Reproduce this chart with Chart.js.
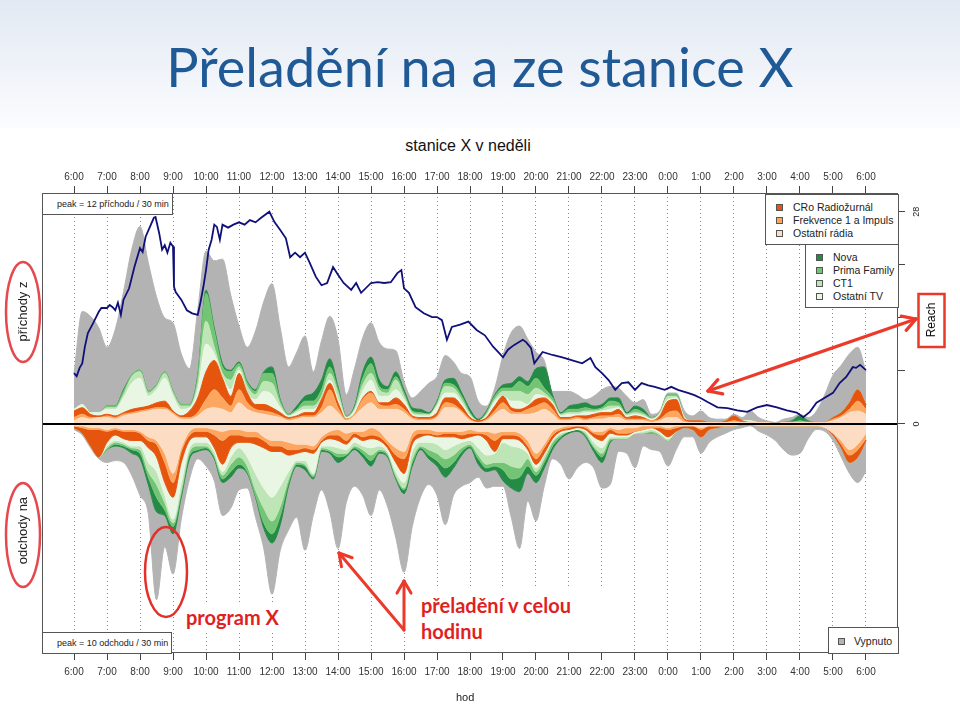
<!DOCTYPE html>
<html><head><meta charset="utf-8">
<script src="https://cdn.jsdelivr.net/npm/chart.js@4.4.1/dist/chart.umd.min.js"></script>
<style>
html,body{margin:0;padding:0;background:#fff;}
body{width:960px;height:707px;position:relative;overflow:hidden;font-family:"Liberation Sans",Arial,sans-serif;color:#222;}
#band{position:absolute;left:0;top:0;width:960px;height:128px;background:linear-gradient(#e2e9f3,#fbfcfe);}
#title{position:absolute;left:0;width:960px;top:35px;text-align:center;font-family:Lato,"Open Sans",sans-serif;font-size:54px;line-height:64px;color:#1f5a96;white-space:nowrap;}
#subtitle{position:absolute;left:400px;width:136px;top:136px;text-align:center;font-size:16px;line-height:20px;color:#111;white-space:nowrap;}
canvas{position:absolute;left:0;top:0;}
.box{position:absolute;background:#fff;border:1px solid #555;box-sizing:border-box;font-size:10.5px;line-height:13px;color:#222;white-space:nowrap;}
.row{position:absolute;}
.sw{position:absolute;width:7px;height:7px;border:1px solid #555;box-sizing:border-box;}
.rot{position:absolute;text-align:center;transform:rotate(-90deg);white-space:nowrap;}
.ann{position:absolute;background:#fff;color:#e01f1f;font-family:Lato,"Open Sans",sans-serif;font-weight:bold;font-size:20px;line-height:26px;white-space:nowrap;}
</style></head>
<body>
<div id="band"></div>
<div id="title">Přeladění na a ze stanice X</div>
<div id="subtitle">stanice X v neděli</div>
<canvas id="c" width="960" height="707"></canvas>

<div class="box" style="left:42px;top:193px;width:131px;height:22px;font-size:9px;"><span style="position:absolute;left:14px;top:4px;">peak = 12 příchodu / 30 min</span></div>
<div class="box" style="left:42px;top:632px;width:130px;height:22px;font-size:9px;"><span style="position:absolute;left:14px;top:4px;">peak = 10 odchodu / 30 min</span></div>

<div class="box" id="leg1" style="left:765px;top:194px;width:134px;height:51px;"></div>
<div class="box" id="leg2" style="left:805px;top:244px;width:94px;height:64px;"></div>
<div class="box" id="leg3" style="left:828px;top:627px;width:71px;height:27px;"></div>

<div class="rot" style="left:-38px;top:303px;width:120px;height:17px;line-height:17px;font-size:13px;">příchody z</div>
<div class="rot" style="left:-38px;top:522px;width:120px;height:17px;line-height:17px;font-size:13px;">odchody na</div>
<div class="rot" style="left:901px;top:312px;width:60px;height:16px;line-height:16px;font-size:12px;color:#111;">Reach</div>
<div style="position:absolute;left:456px;top:691px;font-size:11px;color:#222;">hod</div>

<div class="ann" style="left:183px;top:604px;padding:0 3px;">program X</div>
<div class="ann" style="left:412px;top:586px;width:203px;height:66px;padding:6px 0 0 9px;box-sizing:border-box;">přeladění v celou<br>hodinu</div>

<svg id="svg" width="960" height="707" style="position:absolute;left:0;top:0;" xmlns="http://www.w3.org/2000/svg">
 <ellipse cx="23" cy="312" rx="17" ry="50" fill="none" stroke="#e5484d" stroke-width="2.5"/>
 <ellipse cx="23" cy="535" rx="17" ry="52" fill="none" stroke="#e5484d" stroke-width="2.5"/>
 <ellipse cx="166" cy="572" rx="21" ry="45" fill="none" stroke="#e3302a" stroke-width="2.5"/>
 <rect x="918.5" y="294" width="26" height="53" fill="none" stroke="#e8392b" stroke-width="2.5"/>
</svg>

<script>
// ---------- data ----------
const hourTicks = [6,7,8,9,10,11,12,13,14,15,16,17,18,19,20,21,22,23,24,25,26,27,28,29,30];
const hourLabels = ['6:00','7:00','8:00','9:00','10:00','11:00','12:00','13:00','14:00','15:00','16:00','17:00','18:00','19:00','20:00','21:00','22:00','23:00','0:00','1:00','2:00','3:00','4:00','5:00','6:00'];
const reachTicks = [0,7,14,21,28];
const reachTickLabels = ['0','','','','28'];

// 15-minute grid, 6:00 -> 6:00 next day
const times = [];
for (let i = 0; i <= 96; i++) times.push(6 + i * 0.25);

// příchody z (arrivals from), per 30 min
const upRadia = [0.2,0.4,0.3,0.4,0.4,0.3,0.5,0.6,0.7,0.8,0.9,0.9,0.6,0.3,0.3,0.5,0.9,1.0,0.9,0.7,1.3,0.9,0.7,0.6,0.5,0.4,0.2,0.3,0.4,0.4,0.7,1.1,0.7,0.2,0.5,1.0,1.3,0.9,0.9,0.9,0.7,0.3,0.2,0.2,0.4,1.0,1.0,0.7,0.2,0.1,0.2,0.6,0.9,0.6,0.6,0.6,0.7,0.9,0.6,0.2,0.2,0.3,0.2,0.3,0.3,0.4,0.4,0.2,0.2,0.2,0.1,0.2,0.4,0.4,0.1,0.1,0.1,0.1,0.1,0.1,0.1,0.1,0.1,0.1,0.1,0,0.1,0.1,0.1,0.1,0.1,0.1,0.2,0.4,0.7,0.8,0.6];
const upFrekvence = [0.2,0.2,0.1,0,0.1,0.1,0.1,0.1,0.1,0.1,0.1,0.1,0.1,0.1,0.1,0.2,0.6,1.1,0.7,0.4,0.8,0.4,0.2,0.2,0.2,0.1,0.1,0.1,0.1,0.1,0.3,1.0,0.3,0.1,0.1,0.5,0.6,0.3,0.2,0.3,0.2,0.1,0.1,0.1,0.1,0.3,0.2,0.1,0.1,0,0.1,0.2,0.4,0.2,0.1,0.3,0.4,0.4,0.3,0.1,0.1,0.1,0.1,0.1,0.2,0.1,0.2,0.1,0.1,0.1,0.1,0.1,0.3,0.4,0.1,0,0,0,0,0,0.1,0,0,0,0,0,0,0,0,0,0,0,0.1,0.1,0.2,0.6,0.3];
const upCRo = [0.4,0.4,0.2,0.1,0.1,0.1,0.1,0.2,0.2,0.2,0.3,0.4,0.1,0.1,0.4,0.9,1.7,1.8,1.2,0.6,1.0,0.6,0.3,0.4,0.3,0.2,0.1,0.1,0.2,0.2,0.5,0.4,0.3,0,0,0.1,0.1,0.1,0.2,0.4,0.3,0.1,0.1,0.1,0.2,0.3,0.4,0.3,0.1,0.1,0.1,0.3,0.4,0.2,0.2,0.2,0.4,0.3,0.3,0.1,0.1,0.1,0.2,0.2,0.2,0.2,0.3,0.1,0.2,0.1,0,0.2,0.7,0.7,0.1,0.1,0.1,0,0,0.1,0.3,0.1,0,0,0,0,0,0,0,0,0,0,0.1,0.2,0.4,0.7,0.3];
const upOstatniTV = [0.1,0.2,0.1,0.2,0.3,0.4,0.9,1.6,1.8,0.6,0.8,1.4,0.9,0.4,0.2,0.5,1.7,0.4,0.1,0.4,0.2,0,0.3,0.8,0.8,0.3,0.1,0.2,0.2,0.2,0,0.2,0.2,0.1,0.2,0.4,0.7,0.4,0.4,0.5,0.3,0.1,0.1,0.1,0.4,0.3,0.3,0.2,0.1,0,0.1,0.3,0,0.4,0.5,0.1,0.3,0.1,0.1,0.1,0.2,0.1,0.2,0.1,0.1,0.2,0.1,0.1,0.1,0.1,0.1,0.1,0.1,0.1,0.1,0,0,0,0,0,0,0,0.1,0,0,0,0,0,0,0,0,0,0,0,0,0,0];
const upCT1 = [0,0,0,0,0.1,0.1,0.2,0.4,0.4,0.2,0.2,0.3,0.2,0.2,0.1,0.4,1.4,0.4,0.2,0.6,0.2,0.4,0.3,0.6,0.7,0.2,0,0.1,0.2,0.2,0.2,0.4,0.4,0,0.1,0.4,0.4,0.4,0.2,0.6,0.2,0.1,0.1,0.1,0.1,0.4,0.3,0.2,0.1,0,0.1,0.1,0.3,0.6,0.6,0.6,0.4,0.2,0.1,0.1,0.1,0.1,0.1,0.1,0.1,0.2,0.1,0.1,0.1,0.1,0,0.1,0.2,0.1,0,0,0,0,0,0,0,0,0,0,0,0,0,0,0,0,0,0,0,0,0,0,0];
const upPrima = [0,0,0,0,0.1,0.1,0.2,0.1,0.1,0.1,0.1,0.1,0.1,0.1,0.1,0.4,1.7,1.0,0.4,0.5,0.2,0.2,0.2,0.5,0.6,0.2,0.1,0.1,0.3,0.3,0.4,0.4,0.2,0.1,0.1,0.4,0.6,0.2,0.2,0.2,0.2,0.1,0.1,0,0.1,0.2,0.2,0.2,0.1,0,0.1,0.2,0.2,0.2,0.6,0.5,0.6,0.3,0.2,0,0.2,0.2,0.2,0.1,0.1,0.3,0.2,0,0.2,0.1,0.1,0,0.1,0.1,0,0,0,0,0,0,0,0,0,0,0,0,0,0,0.1,0,0,0,0,0,0,0,0];
const upNova = [0,0,0,0,0,0,0.1,0,0,0,0,0,0,0,0,0.1,0.2,0.2,0.2,0.1,0.1,0.1,0.1,0.1,0.4,0.1,0,0.2,0.3,0.5,0.6,0.5,0.2,0,0.1,0.4,0.4,0.4,0.2,0.3,0.2,0.2,0.2,0.1,0.1,0.2,0.4,0.2,0.2,0.1,0.1,0.1,0.2,0.3,0.3,0.3,0.6,1.3,0.2,0.1,0.2,0.3,0.3,0.2,0.2,0.2,0.3,0.1,0.2,0.2,0,0,0,0,0,0,0,0,0,0,0,0,0,0,0,0,0,0.1,0.3,0.1,0,0,0,0,0,0,0];
const upVypnuto = [2.2,5.7,5.9,5.2,3.6,4.7,6.0,7.7,8.8,7.9,5.4,3.3,4.2,3.1,2.2,4.0,2.4,4.1,6.4,4.6,2.2,2.1,3.6,4.3,5.1,4.4,2.9,3.3,3.7,1.3,2.4,2.6,2.9,1.3,2.3,2.1,2.1,2.3,2.3,1.3,0.5,0.6,1.1,1.8,1.5,1.5,1.0,1.2,2.0,1.1,0.3,0.4,1.8,3.1,3.1,2.6,1.0,0.4,0.2,1.3,0.9,0.6,0.2,0.6,0.9,0.7,0.6,1.0,0.2,0.6,0.2,0.1,0.1,0.1,0.4,0.3,0.6,0.3,0.2,0.1,0.1,0.2,0.6,0.3,0.1,0.1,0.2,0.2,0.1,0.2,0.7,1.7,2.6,2.9,3.0,2.6,2.0];

// odchody na (departures to), per 30 min
const downRadia = [0.1,0.1,0.2,0.2,0.3,0.2,0.3,0.3,0.4,0.7,0.9,1.6,2.7,1.3,0.4,0.2,0.2,0.3,0.4,0.3,0.3,0.4,0.4,0.7,0.9,0.9,1.0,1.1,1.1,1.2,0.7,0.4,0.3,0.5,0.4,0.4,0.2,0.4,0.9,1.3,1.5,0.5,0.3,0.3,0.4,0.4,0.4,0.4,0.3,0.4,0.4,0.5,0.4,0.4,0.5,0.9,1.6,1.1,0.4,0.2,0.1,0.1,0.1,0.4,0.4,0.2,0.3,0.2,0.2,0.1,0.1,0.1,0.2,0.1,0.1,0.1,0.2,0.1,0.1,0.1,0.1,0,0,0.1,0.1,0.1,0.1,0.1,0.1,0.1,0.1,0.2,0.5,0.9,1.4,1.1,0.5];
const downFrekvence = [0,0.1,0.1,0.1,0.1,0.1,0.1,0.1,0.1,0.2,0.2,0.5,0.5,0.2,0.2,0.2,0.2,0.3,0.5,0.3,0.3,0.3,0.3,0.2,0.3,0.3,0.4,0.3,0.2,0.2,0.2,0.2,0.3,0.4,0.1,0.3,0.4,0.3,0.2,0.4,0.4,0.3,0.2,0.2,0.2,0.1,0.1,0.2,0.2,0.1,0.2,0.4,0.2,0.2,0.2,0.3,0.3,0.2,0.2,0.1,0.1,0,0.1,0.1,0.2,0.1,0.2,0.3,0.2,0.2,0.1,0.1,0.1,0.1,0,0,0.1,0,0,0,0,0,0,0,0,0,0,0,0,0,0,0,0,0.2,0.3,0.3,0.3];
const downCRo = [0.1,0.3,0.9,1.5,0.6,0.3,0.4,0.5,0.4,0.4,0.7,1.1,0.8,0.6,0.3,0.3,0.3,0.7,1.3,0.7,0.4,0.3,0.4,0.4,0.3,0.3,0.3,0.2,0.2,0.2,0.1,0.2,0.3,0.2,0.2,0.2,0.2,0.2,0.2,0.4,0.8,0.3,0.2,0.1,0.1,0.2,0.2,0.2,0.2,0.1,0.3,0.6,0.2,0.2,0.2,0.2,0.3,0.3,0.2,0.1,0.1,0.1,0.1,0.2,0.3,0.2,0.1,0.1,0,0,0,0.2,0.4,0.2,0.1,0.2,0.4,0.2,0.1,0,0,0,0,0,0,0,0,0,0,0,0,0,0.1,0.2,0.4,0.4,0.1];
const downOstatniTV = [0,0,0,0,0.2,0.3,0.2,0.3,0.3,0.8,0.8,0.7,1.2,1.1,0.4,0.3,0.3,0.2,0.4,0.5,0.3,0.8,1.6,2.2,2.5,1.9,0.9,0.4,0.5,1.1,0.2,0.4,0.4,0.3,0.3,0.3,0.5,0.3,0.2,0.5,0.5,0.4,0.3,0.4,0.4,0.7,0.5,0.2,0.2,0.7,0.8,0.1,0.2,0.4,0.4,0.2,0.2,0.1,0.1,0.1,0.1,0.1,0.1,0.3,0.4,0.2,0.1,0.1,0.1,0.1,0.1,0.1,0.1,0,0,0,0,0,0,0,0,0,0,0,0,0,0,0,0,0,0,0,0,0,0,0,0];
const downCT1 = [0,0,0,0,0.1,0.1,0.1,0.1,0.2,0.5,0.7,0.4,0.2,0.4,0.2,0.2,0.2,0.2,0.2,0.4,0.5,0.5,0.9,1.1,1.3,1.1,0.4,0.1,0.2,0.1,0.1,0.2,0.3,0.2,0.2,0.2,0.4,0.2,0.1,0.2,0.3,0.4,0.2,0.4,0.5,0.5,0.5,0.3,0.2,0.4,0.5,0.5,1.1,1.1,1.1,0.3,0.2,0.2,0.1,0.1,0,0,0.1,0.2,0.3,0.1,0.1,0.1,0,0.1,0.1,0.1,0.1,0,0,0,0,0,0,0,0,0,0,0,0,0,0,0,0,0,0,0,0,0,0,0,0];
const downPrima = [0,0,0,0,0.1,0.1,0.1,0.1,0.2,0.3,0.7,0.4,0.2,0.2,0.2,0.2,0.1,0.1,0.2,0.4,0.4,0.3,0.3,0.8,0.7,0.5,0.2,0.1,0.1,0.1,0.1,0.1,0.2,0.1,0.1,0.2,0.3,0.1,0.1,0.1,0.1,0.2,0.1,0.3,0.4,0.5,0.4,0.2,0.1,0.2,0.2,0.2,0.4,0.7,0.5,0.4,0.2,0.2,0.2,0.1,0,0,0.1,0.1,0.2,0.1,0,0,0,0,0.1,0,0,0,0,0,0,0,0,0,0,0,0,0,0,0,0,0,0,0,0,0,0,0,0,0,0];
const downNova = [0,0,0,0,0,0.1,0.1,0.2,0.3,0.4,0.8,0.3,0.4,0.2,0.2,0.1,0.1,0.1,0.2,0.3,0.2,0.1,0.1,0.3,0.5,0.5,0.2,0.1,0.2,0.1,0.1,0.1,0.3,0.1,0.1,0.2,0.3,0.1,0.1,0.1,0.2,0.2,0.1,0.2,0.3,0.5,0.3,0.2,0.1,0.3,0.2,0.2,0.6,0.5,0.8,0.4,0.4,0.3,0.2,0.1,0.1,0.1,0.1,0.2,0.3,0.1,0,0,0,0,0,0,0,0,0,0,0,0,0,0,0,0,0,0,0,0,0,0,0,0,0,0,0,0,0,0,0];
const downVypnuto = [0.1,0.1,0.1,0.1,0.7,0.8,0.8,1.2,2.0,1.6,4.8,1.7,2.2,1.2,1.1,0.4,0.9,1.2,1.8,1.7,1.2,0.8,1.1,1.1,2.8,1.4,2.4,2.8,4.4,2.0,2.1,3.2,4.7,2.5,2.0,2.1,2.7,2.0,2.7,3.2,4.3,3.3,2.6,1.4,1.6,2.6,1.5,1.7,1.9,0.7,0.9,0.9,0.3,1.6,3.1,1.5,2.1,1.0,0.5,1.4,2.5,2.0,1.4,0.9,1.4,2.3,0.7,0.8,1.9,0.7,0.9,0.9,1.4,1.0,0.5,0.4,0.9,0.7,0.5,0.4,0.2,0.2,0.1,0.3,0.5,0.8,1.3,1.6,1.5,0.7,0.2,0.2,0.3,0.5,0.6,1.4,1.7];

// Reach (right axis)
const reachTimes = [6.00,6.08,6.17,6.25,6.33,6.42,6.58,6.75,6.83,7.00,7.08,7.17,7.25,7.33,7.42,7.50,7.67,7.83,8.00,8.08,8.17,8.33,8.42,8.47,8.58,8.67,8.75,8.83,8.92,9.00,9.03,9.08,9.25,9.42,9.58,9.75,9.83,9.92,10.00,10.08,10.17,10.25,10.33,10.42,10.50,10.67,10.83,11.00,11.17,11.33,11.50,11.67,11.92,12.08,12.25,12.42,12.55,12.70,12.85,13.00,13.15,13.33,13.50,13.67,13.85,14.00,14.17,14.40,14.55,14.70,15.00,15.20,15.40,15.60,15.80,15.92,16.00,16.15,16.35,16.60,16.85,17.00,17.15,17.30,17.45,17.70,17.95,18.20,18.45,18.70,18.85,19.00,19.15,19.33,19.60,19.70,19.85,19.95,20.20,20.50,20.80,21.10,21.40,21.65,21.80,22.00,22.20,22.40,22.60,22.80,23.00,23.20,23.40,23.60,23.90,24.10,24.30,24.60,24.80,25.00,25.20,25.50,25.80,26.10,26.40,26.70,27.00,27.30,27.60,27.90,28.10,28.30,28.50,28.80,29.00,29.20,29.40,29.60,29.70,29.82,30.00];
const reachValues = [6.7,6.3,7.4,8.0,10.2,12.0,13.3,14.8,15.3,15.3,15.7,15.4,15.0,16.0,14.4,16.4,17.9,20.7,23.2,22.7,24.7,26.3,27.2,27.3,25.2,23.0,23.6,22.6,23.9,23.4,18.1,17.4,16.4,15.0,14.6,14.4,16.0,18.1,20.3,23.0,24.3,26.3,26.0,24.3,26.3,25.9,26.3,26.6,26.3,26.9,26.6,27.2,28.0,26.6,25.6,24.5,22.0,22.6,22.0,22.6,21.2,19.4,18.3,18.6,20.7,19.7,18.6,17.7,18.6,17.3,18.6,18.7,18.6,18.7,19.9,20.3,17.9,17.3,15.4,14.6,14.1,14.1,13.7,11.1,12.8,13.1,13.5,12.4,11.7,10.2,9.5,8.8,9.8,10.4,11.1,10.8,10.0,8.0,9.5,9.1,8.8,8.4,8.0,8.7,7.5,6.7,5.8,4.5,5.4,5.5,4.5,5.4,5.1,4.9,4.5,4.9,4.5,4.1,3.8,3.4,2.9,2.2,2.1,1.8,1.6,2.2,2.5,2.2,1.8,1.5,0.9,1.6,2.8,3.6,4.1,5.4,6.2,7.5,7.4,7.8,7.1];

// ---------- styles ----------
const upSeries = [
  {label:'Ostatní rádia', data:upRadia, color:'#fddcc4'},
  {label:'Frekvence 1 a Impuls', data:upFrekvence, color:'#fca65f'},
  {label:'CRo Radiožurnál', data:upCRo, color:'#e6550d'},
  {label:'Ostatní TV', data:upOstatniTV, color:'#e9f6e4'},
  {label:'CT1', data:upCT1, color:'#bde5b5'},
  {label:'Prima Family', data:upPrima, color:'#74c476'},
  {label:'Nova', data:upNova, color:'#238b45'},
  {label:'Vypnuto', data:upVypnuto, color:'#b3b3b3'}
];
const downSeries = [
  {label:'Ostatní rádia', data:downRadia, color:'#fddcc4'},
  {label:'Frekvence 1 a Impuls', data:downFrekvence, color:'#fca65f'},
  {label:'CRo Radiožurnál', data:downCRo, color:'#e6550d'},
  {label:'Ostatní TV', data:downOstatniTV, color:'#e9f6e4'},
  {label:'CT1', data:downCT1, color:'#bde5b5'},
  {label:'Prima Family', data:downPrima, color:'#74c476'},
  {label:'Nova', data:downNova, color:'#238b45'},
  {label:'Vypnuto', data:downVypnuto, color:'#b3b3b3'}
];

function pts(vals, sign) { return times.map((t, i) => ({x: t, y: sign * vals[i]})); }
const datasets = [];
upSeries.forEach((s, k) => datasets.push({
  label: s.label, data: pts(s.data, 1), yAxisID: 'yUp', stack: 'up',
  fill: k === 0 ? 'origin' : '-1', backgroundColor: s.color, borderColor: s.color,
  borderWidth: 1, pointRadius: 0, tension: 0.4, cubicInterpolationMode: 'monotone'
}));
downSeries.forEach((s, k) => datasets.push({
  label: s.label, data: pts(s.data, -1), yAxisID: 'yDown', stack: 'down',
  fill: k === 0 ? 'origin' : '-1', backgroundColor: s.color, borderColor: s.color,
  borderWidth: 1, pointRadius: 0, tension: 0.4, cubicInterpolationMode: 'monotone'
}));
datasets.push({
  label: 'Reach', data: reachTimes.map((t, i) => ({x: t, y: reachValues[i]})),
  yAxisID: 'yR', fill: false, borderColor: '#10107a', borderWidth: 1.8,
  pointRadius: 0, tension: 0, order: -1
});

const framePlugin = {
  id: 'frame',
  afterDatasetsDraw(chart) {
    const {ctx, chartArea: a, scales} = chart;
    const y0 = scales.yUp.getPixelForValue(0);
    ctx.save();
    ctx.strokeStyle = '#000'; ctx.lineWidth = 2;
    ctx.beginPath(); ctx.moveTo(a.left, y0); ctx.lineTo(a.right, y0); ctx.stroke();
    ctx.strokeStyle = '#555'; ctx.lineWidth = 1;
    ctx.strokeRect(Math.round(a.left) + 0.5, Math.round(a.top) + 0.5, Math.round(a.right - a.left) - 1, Math.round(a.bottom - a.top) - 1);
    ctx.restore();
  }
};

const tickFont = {family: '"Liberation Sans", Arial, sans-serif', size: 10};
function hourAxis(pos, h, onArea) {
  return {
    type: 'linear', position: pos, min: 5.03, max: 30.97,
    afterFit: s => { s.height = h; },
    afterBuildTicks: s => { s.ticks = hourTicks.map(v => ({value: v})); },
    ticks: {autoSkip: false, maxRotation: 0, minRotation: 0, padding: pos === 'top' ? 3 : 6, color: '#333', font: tickFont,
            callback: v => hourLabels[hourTicks.indexOf(v)]},
    grid: {display: true, drawOnChartArea: onArea, drawTicks: true, tickLength: 7, color: '#8a8a8a', lineWidth: 1, tickColor: '#444', tickWidth: 1},
    border: {display: false, dash: [1, 3]}
  };
}

new Chart(document.getElementById('c'), {
  type: 'line',
  data: {datasets},
  options: {
    responsive: false, animation: false, devicePixelRatio: 1, events: [],
    layout: {padding: {left: 42, right: 10, top: 150, bottom: 10}},
    plugins: {legend: {display: false}, tooltip: {enabled: false}, title: {display: false}},
    scales: {
      x: hourAxis('bottom', 44, false),
      xTop: hourAxis('top', 43, true),
      yUp: {type: 'linear', display: false, stacked: true, min: -14.02, max: 14.15},
      yDown: {type: 'linear', display: false, stacked: true, min: -12.51, max: 12.62},
      yR: {
        type: 'linear', position: 'right', min: -30.21, max: 30.47,
        afterFit: s => { s.width = 52; },
        afterBuildTicks: s => { s.ticks = reachTicks.map(v => ({value: v})); },
        ticks: {minRotation: 90, maxRotation: 90, crossAlign: 'center', padding: 7, color: '#222',
                font: {family: '"Liberation Sans", Arial, sans-serif', size: 9},
                callback: v => reachTickLabels[reachTicks.indexOf(v)]},
        grid: {drawOnChartArea: false, drawTicks: true, tickLength: 7, color: '#444'},
        border: {display: false}
      }
    }
  },
  plugins: [framePlugin]
});

// ---------- legends ----------
function legend(id, items, swX, txtX, y0, dy) {
  const el = document.getElementById(id);
  items.forEach((it, i) => {
    const sw = document.createElement('div');
    sw.className = 'sw'; sw.style.background = it.color;
    sw.style.left = swX + 'px'; sw.style.top = (y0 + i * dy + 3) + 'px';
    el.appendChild(sw);
    const t = document.createElement('div');
    t.className = 'row'; t.textContent = it.label;
    t.style.left = txtX + 'px'; t.style.top = (y0 + i * dy) + 'px';
    el.appendChild(t);
  });
}
legend('leg1', [upSeries[2], upSeries[1], upSeries[0]], 10, 27, 6, 13);
legend('leg2', [upSeries[6], upSeries[5], upSeries[4], upSeries[3]], 10, 27, 6, 13);
legend('leg3', [upSeries[7]], 9, 25, 7, 13);

// ---------- arrows ----------
const svg = document.getElementById('svg');
function line(x1, y1, x2, y2, c, w) {
  const l = document.createElementNS('http://www.w3.org/2000/svg', 'line');
  l.setAttribute('x1', x1); l.setAttribute('y1', y1); l.setAttribute('x2', x2); l.setAttribute('y2', y2);
  l.setAttribute('stroke', c); l.setAttribute('stroke-width', w); l.setAttribute('stroke-linecap', 'round');
  svg.appendChild(l);
}
function head(x, y, fx, fy, c, w, len) {
  const dx = fx - x, dy = fy - y, d = Math.hypot(dx, dy), ux = dx / d, uy = dy / d;
  [Math.PI / 6, -Math.PI / 6].forEach(a => {
    const rx = ux * Math.cos(a) - uy * Math.sin(a), ry = ux * Math.sin(a) + uy * Math.cos(a);
    line(x, y, x + rx * len, y + ry * len, c, w);
  });
}
const red = '#ec3a2a';
line(404, 630, 339, 553, red, 3); head(339, 553, 404, 630, red, 3, 14);
line(404, 630, 404, 581, red, 3); head(404, 581, 404, 630, red, 3, 14);
line(708, 391, 916, 319, red, 3.2); head(916, 319, 708, 391, red, 3.2, 15); head(708, 391, 916, 319, red, 3.2, 15);
</script>
</body></html>
